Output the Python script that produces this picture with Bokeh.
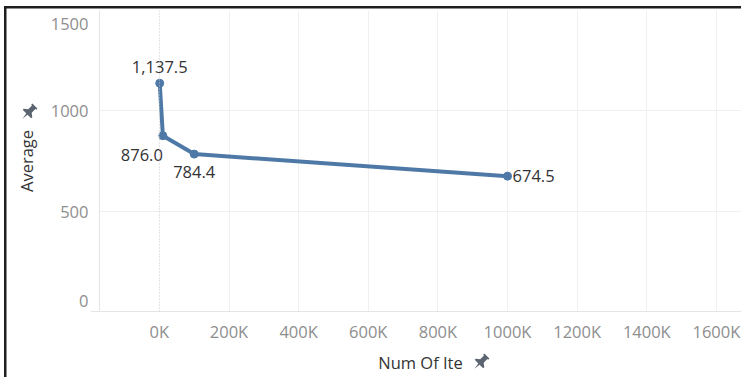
from bokeh.plotting import figure
from bokeh.models import ColumnDataSource, FixedTicker, Span, InlineStyleSheet
from bokeh.core.properties import value
from bokeh.embed import file_html
from bokeh.resources import INLINE

try:
    from bokeh.models import GlobalInlineStyleSheet
except ImportError:
    GlobalInlineStyleSheet = None

# Average value by number of items
num_items = [1000, 10000, 100000, 1000000]
averages = [1137.5, 876.0, 784.4, 674.5]

x_ticks = [0, 200000, 400000, 600000, 800000, 1000000, 1200000, 1400000, 1600000]
x_tick_labels = ["0K", "200K", "400K", "600K", "800K", "1000K", "1200K", "1400K", "1600K"]
y_ticks = [0, 500, 1000, 1500]
y_tick_labels = ["0", "500", "1000", "1500"]

FONT = "Open Sans"
FS = "16.5px"
TICK_COLOR = "#8e8e8e"
TITLE_COLOR = "#333333"
LINE_COLOR = "#4e79a7"
GRID_COLOR = "#f0f0f0"

p = figure(width=741, height=377, output_backend="svg", toolbar_location=None,
           x_range=(-172000, 1672000), y_range=(0, 1500),
           min_border_left=99, min_border_right=0, min_border_top=10,
           min_border_bottom=66, css_classes=["sheet"])
p.outline_line_color = None
p.background_fill_color = "white"
p.border_fill_color = "white"

# x axis
p.xaxis.ticker = FixedTicker(ticks=x_ticks)
p.xaxis.major_label_overrides = {t: s for t, s in zip(x_ticks, x_tick_labels)}
p.xaxis.axis_label = "Num Of Ite"

# y axis: blank lines nudge the end labels inwards, beside the frame
y_over = {}
for t, s in zip(y_ticks, y_tick_labels):
    if t == y_ticks[0]:
        s = s + "\n \n "
    elif t == y_ticks[-1]:
        s = " \n" + s
    y_over[t] = s
p.yaxis.ticker = FixedTicker(ticks=y_ticks)
p.yaxis.major_label_overrides = y_over
p.yaxis.major_label_text_line_height = 0.48
p.yaxis.axis_label = "Average"

for ax in (p.xaxis[0], p.yaxis[0]):
    ax.major_tick_line_color = None
    ax.minor_tick_line_color = None
    ax.axis_line_color = "#e4e4e4"
    ax.major_label_text_font = FONT
    ax.major_label_text_font_size = FS
    ax.major_label_text_color = TICK_COLOR
    ax.axis_label_text_font = FONT
    ax.axis_label_text_font_size = FS
    ax.axis_label_text_font_style = "normal"
    ax.axis_label_text_color = TITLE_COLOR

p.xaxis.major_label_standoff = 2
p.xaxis.axis_label_standoff = 5
p.yaxis.major_label_standoff = 5
p.yaxis.axis_label_standoff = 10

p.xgrid.ticker = FixedTicker(ticks=[t for t in x_ticks if t != 0])
p.ygrid.ticker = FixedTicker(ticks=y_ticks)
p.xgrid.grid_line_color = GRID_COLOR
p.ygrid.grid_line_color = GRID_COLOR

# dotted zero line
p.add_layout(Span(location=0, dimension="height", line_color="#c4c4c4",
                  line_width=1, line_dash="1 2"))

src = ColumnDataSource(dict(
    x=num_items, y=averages,
    label=[f"{v:,.1f}" for v in averages],
    align=["center", "right", "center", "left"],
    baseline=["bottom", "top", "top", "middle"],
    dx=[0, 0, 0, 5],
    dy=[-10, 13, 12, 0],
))

p.line("x", "y", source=src, line_color=LINE_COLOR, line_width=4,
       line_join="round")
p.scatter("x", "y", source=src, size=8, fill_color=LINE_COLOR,
          line_color=LINE_COLOR)
p.text("x", "y", text="label", source=src, text_align="align",
       text_baseline="baseline", x_offset="dx", y_offset="dy",
       text_font=value(FONT), text_font_size=FS, text_color=TITLE_COLOR)

# sheet border, pin icons beside the axis titles, short axis-line stub
PIN = ("url(\"data:image/svg+xml;utf8,<svg xmlns='http://www.w3.org/2000/svg' "
       "width='20' height='20' viewBox='-9 -9 18 18'><g transform='rotate(45)'>"
       "<path d='M-3.2 -7.5 H3.2 V-6 H2.2 V-1.2 L5.4 1.2 V2.6 H0.8 L0 8.5 "
       "L-0.8 2.6 H-5.4 V1.2 L-2.2 -1.2 V-6 H-3.2 Z' fill='%235b6470'/>"
       "</g></svg>\")")
DARK = "linear-gradient(#1e1e1e, #1e1e1e)"
LIGHT = "linear-gradient(#e4e4e4, #e4e4e4)"
css = f"""
:host(.sheet) {{ position: relative; overflow: hidden; }}
:host(.sheet)::before {{
  content: ""; position: absolute; left: 4px; top: 6px; width: 737px; height: 371px;
  background-image: {DARK}, {DARK}, {PIN}, {PIN}, {LIGHT};
  background-position: 0 0, 0 0, 14.5px 96px, 467px 346px, 87px 304.5px;
  background-size: 737px 2.5px, 2.5px 371px, 20px 20px, 20px 20px, 8px 1px;
  background-repeat: no-repeat;
  pointer-events: none; z-index: 10;
}}
"""
sheets = [InlineStyleSheet(css=css)]
if GlobalInlineStyleSheet is not None:
    # the page itself never scrolls
    sheets.append(GlobalInlineStyleSheet(
        css="html, body { margin: 0; overflow: hidden; }"))
p.stylesheets = sheets

open("out.html", "w").write(file_html(p, INLINE))
